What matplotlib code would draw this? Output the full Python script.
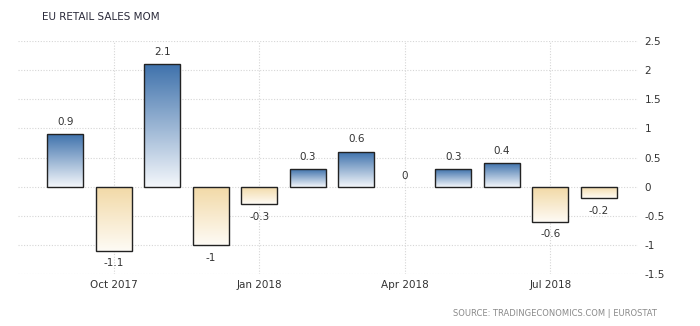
import numpy as np
import matplotlib
matplotlib.use("Agg")
import matplotlib.pyplot as plt
from matplotlib.colors import LinearSegmentedColormap

# EU retail sales, month over month (%), Sep 2017 .. Aug 2018
months = ["Sep 2017", "Oct 2017", "Nov 2017", "Dec 2017", "Jan 2018", "Feb 2018",
          "Mar 2018", "Apr 2018", "May 2018", "Jun 2018", "Jul 2018", "Aug 2018"]
values = [0.9, -1.1, 2.1, -1.0, -0.3, 0.3, 0.6, 0.0, 0.3, 0.4, -0.6, -0.2]
tick_months = ["Oct 2017", "Jan 2018", "Apr 2018", "Jul 2018"]
yticks = [-1.5, -1, -0.5, 0, 0.5, 1, 1.5, 2, 2.5]

TEXT = "#333333"
pos_cmap = LinearSegmentedColormap.from_list("pos", ["#f4f7fb", "#3f72ac"])
neg_cmap = LinearSegmentedColormap.from_list("neg", ["#fefbf5", "#f2d9a6"])

fig = plt.figure(figsize=(7.0, 3.26), dpi=100)
ax = fig.add_axes([0.026, 0.159, 0.885, 0.715])

x = np.arange(len(values))
width = 0.74
bars = ax.bar(x, values, width=width, facecolor="none", edgecolor="#222222",
              linewidth=1.0, zorder=4)

grad = np.linspace(0, 1, 256).reshape(-1, 1)
for bar, v in zip(bars, values):
    if v == 0:
        bar.set_linewidth(0)  # flat month: no visible bar, just the label
        continue
    x0 = bar.get_x()
    x1 = x0 + bar.get_width()
    if v > 0:
        im = ax.imshow(grad, cmap=pos_cmap, origin="lower", aspect="auto",
                       extent=[x0, x1, 0, v], zorder=3)
    else:
        im = ax.imshow(grad, cmap=neg_cmap, origin="lower", aspect="auto",
                       extent=[x0, x1, v, 0], zorder=3)
    im.set_clip_path(bar)

for xi, v in zip(x, values):
    lab = f"{v:g}"
    if v > 0:
        ax.text(xi, v + 0.13, lab, ha="center", va="bottom", fontsize=7.5, color=TEXT)
    elif v < 0:
        ax.text(xi, v - 0.13, lab, ha="center", va="top", fontsize=7.5, color=TEXT)
    else:
        ax.text(xi, 0.1, lab, ha="center", va="bottom", fontsize=7.5, color=TEXT)

ax.set_xlim(-0.97, 11.8)
ax.set_ylim(-1.5, 2.5)
ax.set_xticks([months.index(m) for m in tick_months])
ax.set_xticklabels(tick_months)
ax.set_yticks(yticks)
ax.set_yticklabels([f"{t:g}" for t in yticks])
ax.yaxis.tick_right()
ax.tick_params(axis="both", length=0, labelsize=7.5, colors=TEXT)
ax.tick_params(axis="y", pad=5)
ax.tick_params(axis="x", pad=4)
ax.grid(True, color="#d6d6d6", linestyle=(0, (1, 1.5)), linewidth=0.8, zorder=0)
for s in ax.spines.values():
    s.set_visible(False)

fig.text(42 / 700, 1 - 17 / 326, "EU RETAIL SALES MOM", fontsize=7.5, color="#2b2b3b",
         ha="left", va="center")
fig.text(657 / 700, 1 - 313 / 326, "SOURCE: TRADINGECONOMICS.COM | EUROSTAT",
         fontsize=6, color="#8a8a8a", ha="right", va="center")

fig.savefig("out.png", dpi=100, facecolor="white")
